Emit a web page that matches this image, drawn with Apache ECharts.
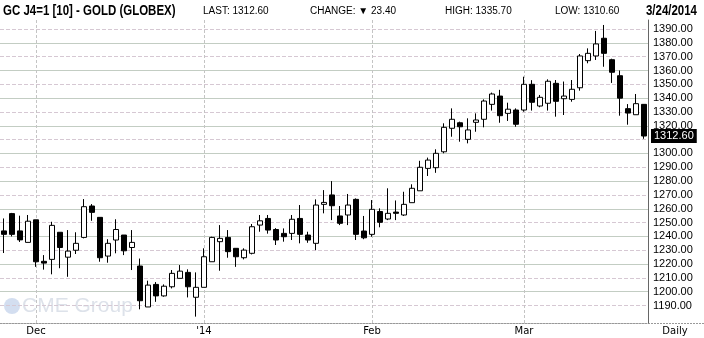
<!DOCTYPE html>
<html><head><meta charset="utf-8">
<script src="https://cdn.jsdelivr.net/npm/echarts@6/dist/echarts.min.js"></script>
<style>html,body{margin:0;padding:0;background:#fff}#c{width:704px;height:338px}</style>
</head><body><div id="c"></div>
<script>
const dates = [
'2013-11-25','2013-11-26','2013-11-27','2013-11-29',
'2013-12-02','2013-12-03','2013-12-04','2013-12-05','2013-12-06','2013-12-09','2013-12-10','2013-12-11','2013-12-12','2013-12-13',
'2013-12-16','2013-12-17','2013-12-18','2013-12-19','2013-12-20','2013-12-23','2013-12-24','2013-12-26','2013-12-27','2013-12-30','2013-12-31',
'2014-01-02','2014-01-03','2014-01-06','2014-01-07','2014-01-08','2014-01-09','2014-01-10','2014-01-13','2014-01-14','2014-01-15','2014-01-16','2014-01-17',
'2014-01-21','2014-01-22','2014-01-23','2014-01-24','2014-01-27','2014-01-28','2014-01-29','2014-01-30','2014-01-31',
'2014-02-03','2014-02-04','2014-02-05','2014-02-06','2014-02-07','2014-02-10','2014-02-11','2014-02-12','2014-02-13','2014-02-14',
'2014-02-18','2014-02-19','2014-02-20','2014-02-21','2014-02-24','2014-02-25','2014-02-26','2014-02-27','2014-02-28',
'2014-03-03','2014-03-04','2014-03-05','2014-03-06','2014-03-07','2014-03-10','2014-03-11','2014-03-12','2014-03-13','2014-03-14',
'2014-03-17','2014-03-18','2014-03-19','2014-03-20','2014-03-21','2014-03-24'
];
const opens = [
1244,1256.5,1244,1235.7,
1252,1222,1223.4,1243,1225,1230,1239.3,1262,1253.8,1225.8,
1237.4,1241,1232,1218.6,1189,1205.3,1197,1203.6,1209.7,1214,1196,
1203.2,1221.7,1236.2,1239.3,1231.4,1224.6,1227.8,1248.2,1253,1245,1242.2,1242.2,
1253,1241,1235,1263.2,1270,1254.8,1255.5,1266.8,1243.9,
1241.5,1258,1252.6,1257.6,1255.5,1264.4,1273,1289.2,1289.7,1301.2,
1318.2,1322.2,1310.2,1322.5,1324.7,1335.5,1341.5,1329,1331.4,
1331.4,1350,1334.3,1336.3,1350.7,1339.6,1339.1,1347.5,1367.1,1370.5,
1383.3,1367.8,1356.2,1332.4,1328,1335.5
];
const closes = [
1241.5,1241.5,1237.5,1251,
1221.7,1220.7,1248,1232,1229.4,1235,1261.5,1257.4,1224.6,1235,
1245,1229.6,1235.7,1193.5,1204.8,1197,1204,1213.3,1214.9,1203.6,1203.2,
1225.3,1239.3,1238.6,1229,1225.3,1230.1,1247,1251.3,1244.6,1237.4,1239.8,1252.4,
1241.5,1237.4,1262.7,1264.6,1262.2,1249.5,1262.7,1241.5,1239,
1259.6,1250.2,1256.7,1256.7,1263.2,1274.8,1290,1295.2,1300.1,1318.9,
1324.7,1319.3,1317,1324.2,1337.9,1343,1327.3,1332,1321.1,
1350,1337,1340.6,1352.2,1337.7,1341.5,1346.4,1370.5,1372.4,1379.2,
1372.4,1358.7,1340,1329.2,1336,1312.6
];
const lows = [
1228,1240,1236,1235.7,
1218,1216,1212.6,1217,1210.8,1227.3,1238.6,1251.3,1221.7,1221,
1227.8,1226.5,1215.7,1187.3,1189,1192.7,1196.4,1202.4,1209.7,1195.9,1182,
1203.2,1221.7,1215.2,1224.6,1218,1223.4,1227,1243.4,1242,1233.8,1236.2,1237.4,
1235,1235.4,1230.1,1256.7,1251.8,1248.2,1248.2,1237.4,1238,
1239.8,1246.6,1251.8,1251.8,1254.8,1264.4,1273,1283.7,1286,1300.1,
1312.1,1308.5,1307.3,1315.7,1318.9,1331,1322.2,1323.5,1319.3,
1330.2,1331,1333.4,1331,1326.6,1327.8,1337.4,1345.4,1365.2,1367.6,
1362.7,1351,1327.3,1320.8,1328,1310.6
];
const highs = [
1253,1257,1255,1255.5,
1252,1226.5,1250.6,1243,1244.6,1243,1267,1263.4,1253.8,1238,
1252.4,1241,1244.6,1224,1208,1207,1205.3,1215.7,1219.3,1216.2,1214,
1231.4,1239.8,1248.2,1244.6,1231.4,1231.4,1249,1255.5,1255.5,1246,1245.8,1255.5,
1262.7,1243.4,1266.8,1273.5,1280,1262,1270.7,1267.5,1254.8,
1266.3,1260.3,1274.8,1266,1272.3,1277.7,1294.7,1297,1303,1321.8,
1332.6,1323,1325.4,1329,1339.1,1344,1346,1336.7,1332.6,
1355.5,1353,1342.3,1353.6,1353.1,1352,1353.1,1371.9,1376,1388.6,
1392.9,1368.5,1360,1335.7,1343,1335.7
];
const monthLabels = {'2013-12-02':'Dec','2014-01-02':"'14",'2014-02-03':'Feb','2014-03-03':'Mar'};
const yTicks = [1190,1200,1210,1220,1230,1240,1250,1260,1270,1280,1290,1300,1310,1320,1330,1340,1350,1360,1370,1380,1390];
const yLabelTicks = yTicks.filter(v => v !== 1310);
const lastValue = 1312.60;
const headerTitle = 'GC J4=1 [10] - GOLD (GLOBEX)';
const headerFields = ['LAST: 1312.60', 'CHANGE: \u25BC 23.40', 'HIGH: 1335.70', 'LOW: 1310.60'];
const headerDate = '3/24/2014';

const candleData = dates.map((d, i) => [opens[i], closes[i], lows[i], highs[i]]);
const Y_MIN = 1177.4, Y_MAX = 1396.5;
const solidTicks = yTicks.filter(v => v % 20 === 0);
const dashTicks = yTicks.filter(v => v % 20 !== 0);

const chart = echarts.init(document.getElementById('c'), null, {renderer: 'canvas'});
const baseFont = 'Liberation Sans, Arial, sans-serif';
const fieldX = [203, 310, 445, 555];

function gridAxis(ticks, lineStyle, z) {
  return {
    type: 'value', position: 'right', min: Y_MIN, max: Y_MAX, z: z,
    axisLine: {show: false},
    axisTick: {show: false, customValues: ticks},
    axisLabel: {show: false, customValues: ticks},
    splitLine: {show: true, lineStyle: lineStyle}
  };
}

chart.setOption({
  animation: false,
  backgroundColor: '#fff',
  grid: {left: 0, right: 56, top: 20, bottom: 15},
  xAxis: {
    type: 'category', data: dates, boundaryGap: true,
    axisLine: {show: true, lineStyle: {color: '#999', type: [2, 1]}},
    axisTick: {show: false},
    splitLine: {show: false},
    axisLabel: {
      interval: (idx, val) => monthLabels[val] !== undefined,
      formatter: val => monthLabels[val] || '',
      color: '#000', fontSize: 10, fontFamily: 'DejaVu Sans, sans-serif', margin: 3
    }
  },
  yAxis: [{
    type: 'value', position: 'right', min: Y_MIN, max: Y_MAX, z: 3,
    axisLine: {show: true, lineStyle: {color: '#666', width: 1}},
    axisTick: {show: false, customValues: yLabelTicks},
    axisLabel: {customValues: yLabelTicks, formatter: v => v.toFixed(2), color: '#000', fontSize: 11,
      fontFamily: baseFont, margin: 5, padding: [3, 0, 0, 0]},
    splitLine: {show: false}
  },
  gridAxis(dashTicks, {color: '#d6c8d3', type: [4, 2], width: 1}, 0),
  gridAxis(solidTicks, {color: '#c3cdc3', width: 1}, 1)
  ],
  series: [{
    type: 'line', data: [], z: 1, silent: true,
    markLine: {
      silent: true, symbol: 'none', animation: false, z: 1,
      data: Object.keys(monthLabels).map(d => ({xAxis: d})),
      lineStyle: {color: '#c4c4c4', type: [3, 2], width: 1},
      label: {show: false}
    }
  }, {
    type: 'candlestick', data: candleData, barWidth: 6, z: 3,
    itemStyle: {color: '#fff', color0: '#000', borderColor: '#000', borderColor0: '#000', borderWidth: 1},
    markLine: {
      silent: true, symbol: 'none', animation: false,
      data: [{yAxis: lastValue}],
      lineStyle: {color: 'rgba(0,0,0,0)', width: 0},
      label: {show: true, position: 'end', distance: 3,
        formatter: () => lastValue.toFixed(2), color: '#fff', backgroundColor: '#000',
        padding: [2, 3, 1, 3], fontSize: 11, fontFamily: baseFont}
    }
  }],
  graphic: [
    {type: 'circle', shape: {cx: 12, cy: 306, r: 8}, style: {fill: '#d3def0'}, z: 0},
    {type: 'text', x: 22, y: 306, style: {text: 'CME Group', font: '21px Liberation Sans, Arial, sans-serif', fill: '#dde2ea', verticalAlign: 'middle'}, z: 0},
    {type: 'text', x: 3, y: 11, scaleX: 0.82, style: {text: headerTitle, font: 'bold 14px Liberation Sans, Arial, sans-serif', fill: '#000', verticalAlign: 'middle'}},
    ...headerFields.map((t, i) => ({type: 'text', x: fieldX[i], y: 11, style: {text: t, font: '10px Liberation Sans, Arial, sans-serif', fill: '#000', verticalAlign: 'middle'}})),
    {type: 'text', x: 697, y: 11, scaleX: 0.82, style: {text: headerDate, font: 'bold 14px Liberation Sans, Arial, sans-serif', fill: '#000', verticalAlign: 'middle', align: 'right'}},
    {type: 'line', shape: {x1: 648, y1: 323.5, x2: 704, y2: 323.5}, style: {stroke: '#999', lineDash: [2, 1]}},
    {type: 'text', x: 675, y: 331, style: {text: 'Daily', font: '10px DejaVu Sans, sans-serif', fill: '#000', align: 'center', verticalAlign: 'middle'}}
  ]
});
</script></body></html>
